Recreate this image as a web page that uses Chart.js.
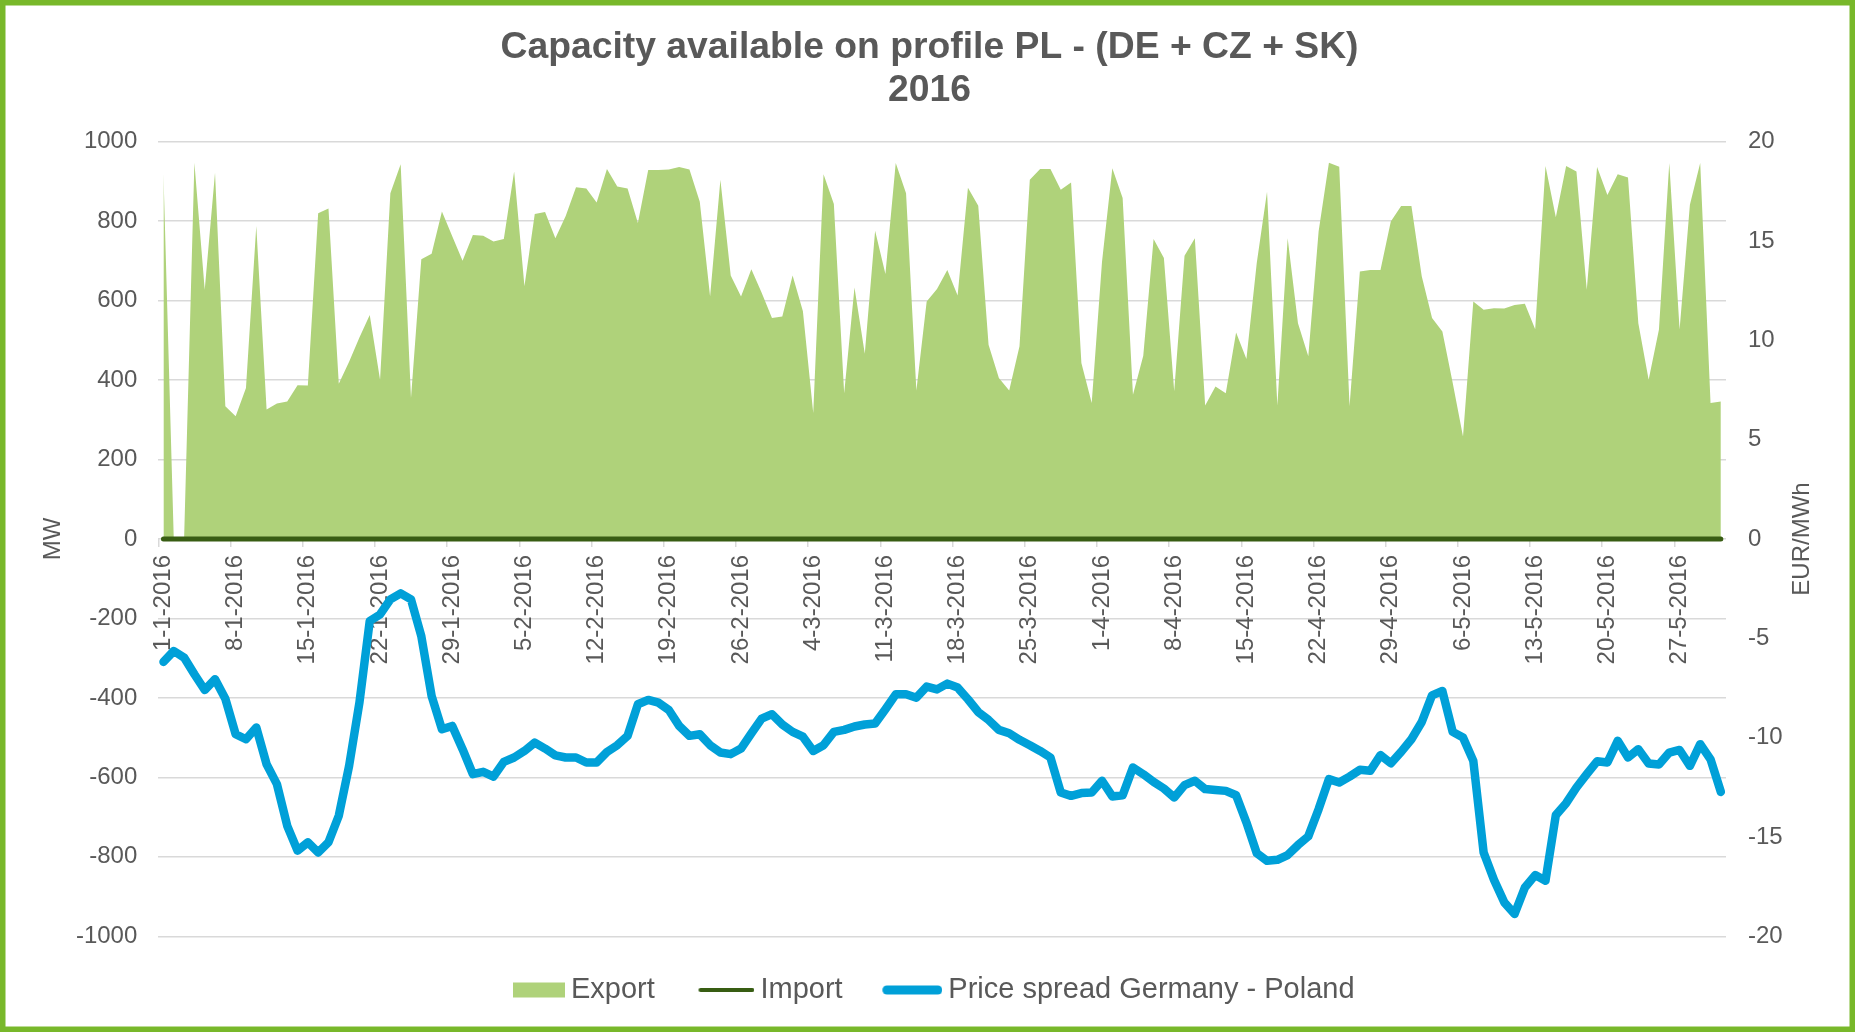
<!DOCTYPE html>
<html>
<head>
<meta charset="utf-8">
<script src="https://cdn.jsdelivr.net/npm/chart.js@4.4.1/dist/chart.umd.min.js"></script>
<style>
  html, body { margin: 0; padding: 0; background: #ffffff; }
  #wrap { width: 1855px; height: 1032px; position: relative; }
  canvas { display: block; }
</style>
</head>
<body>
<div id="wrap"><canvas id="c" width="1855" height="1032"></canvas></div>
<script>
// ---------------- DATA ----------------
const startDay = { year: 2016, month: 1, day: 1 };
const dayCount = 152; // 1-1-2016 .. 31-5-2016

const exportMW = [
  920, 0, 0, 947, 627, 922, 334, 309, 380, 788,
  326, 341, 346, 387, 386, 820, 832, 391, 446, 507,
  564, 401, 870, 943, 355, 704, 718, 824, 762, 700,
  765, 763, 749, 755, 925, 636, 818, 823, 757, 813,
  885, 882, 847, 931, 887, 882, 795, 929, 929, 930,
  936, 930, 849, 610, 904, 663, 610, 679, 620, 556,
  560, 663, 573, 317, 918, 843, 367, 633, 466, 776,
  667, 946, 870, 374, 598, 629, 677, 613, 884, 839,
  489, 405, 374, 485, 904, 931, 931, 879, 897, 443,
  342, 698, 933, 858, 363, 461, 755, 707, 372, 713,
  757, 336, 384, 367, 520, 453, 694, 874, 336, 757,
  543, 460, 774, 947, 937, 334, 673, 677, 677, 799,
  838, 838, 661, 556, 522, 393, 258, 598, 577, 581,
  580, 589, 592, 528, 939, 810, 939, 925, 627, 936,
  866, 918, 910, 543, 401, 527, 946, 527, 841, 946,
  342, 346
];

const importMW = [
  0, 0, 0, 0, 0, 0, 0, 0, 0, 0,
  0, 0, 0, 0, 0, 0, 0, 0, 0, 0,
  0, 0, 0, 0, 0, 0, 0, 0, 0, 0,
  0, 0, 0, 0, 0, 0, 0, 0, 0, 0,
  0, 0, 0, 0, 0, 0, 0, 0, 0, 0,
  0, 0, 0, 0, 0, 0, 0, 0, 0, 0,
  0, 0, 0, 0, 0, 0, 0, 0, 0, 0,
  0, 0, 0, 0, 0, 0, 0, 0, 0, 0,
  0, 0, 0, 0, 0, 0, 0, 0, 0, 0,
  0, 0, 0, 0, 0, 0, 0, 0, 0, 0,
  0, 0, 0, 0, 0, 0, 0, 0, 0, 0,
  0, 0, 0, 0, 0, 0, 0, 0, 0, 0,
  0, 0, 0, 0, 0, 0, 0, 0, 0, 0,
  0, 0, 0, 0, 0, 0, 0, 0, 0, 0,
  0, 0, 0, 0, 0, 0, 0, 0, 0, 0,
  0, 0
];

const priceSpread = [
  -6.19, -5.64, -5.97, -6.81, -7.60, -7.06, -8.04, -9.83, -10.08, -9.49,
  -11.34, -12.34, -14.44, -15.69, -15.27, -15.78, -15.27, -13.93, -11.42, -8.24,
  -4.13, -3.80, -3.04, -2.74, -3.04, -4.89, -7.90, -9.58, -9.41, -10.58,
  -11.84, -11.72, -11.96, -11.22, -11.00, -10.67, -10.25, -10.55, -10.89, -11.00,
  -11.00, -11.25, -11.25, -10.72, -10.38, -9.91, -8.32, -8.10, -8.24, -8.61,
  -9.41, -9.91, -9.83, -10.38, -10.75, -10.83, -10.55, -9.78, -9.04, -8.82,
  -9.34, -9.71, -9.95, -10.67, -10.38, -9.71, -9.61, -9.44, -9.34, -9.29,
  -8.57, -7.82, -7.82, -7.99, -7.43, -7.57, -7.28, -7.48, -8.07, -8.71,
  -9.11, -9.61, -9.78, -10.11, -10.38, -10.67, -11.00, -12.76, -12.93, -12.79,
  -12.76, -12.17, -12.96, -12.90, -11.50, -11.84, -12.23, -12.56, -13.01, -12.39,
  -12.17, -12.59, -12.63, -12.68, -12.90, -14.27, -15.81, -16.20, -16.15, -15.91,
  -15.41, -14.97, -13.60, -12.09, -12.26, -11.96, -11.62, -11.67, -10.88, -11.29,
  -10.72, -10.08, -9.21, -7.87, -7.65, -9.71, -9.99, -11.17, -15.78, -17.15,
  -18.29, -18.88, -17.54, -16.92, -17.20, -13.90, -13.30, -12.51, -11.84, -11.19,
  -11.25, -10.16, -11.00, -10.58, -11.30, -11.35, -10.75, -10.62, -11.42, -10.33,
  -11.09, -12.73
];

const seriesNames = ['Export', 'Import', 'Price spread Germany - Poland'];
const titleLines = ['Capacity available on profile PL - (DE + CZ + SK)', '2016'];
const leftAxisTitle = 'MW';
const rightAxisTitle = 'EUR/MWh';
const labelEvery = 7;

// category labels d-m-2016
const categories = [];
for (let i = 0; i < dayCount; i++) {
  const d = new Date(Date.UTC(startDay.year, startDay.month - 1, startDay.day + i));
  categories.push(d.getUTCDate() + '-' + (d.getUTCMonth() + 1) + '-' + d.getUTCFullYear());
}

// ---------------- STYLE ----------------
const TEXT = '#595959';
const GRID = '#d9d9d9';
const EXPORT_COLOR = '#afd27a';
const IMPORT_COLOR = '#385d13';
const PRICE_COLOR = '#00a0d8';
const FRAME_COLOR = '#78b82a';
const FONT = "'Liberation Sans', Arial, Helvetica, sans-serif";

Chart.defaults.font.family = FONT;
Chart.defaults.color = TEXT;

// legend icons (canvas images), all the same width so they centre alike
function makeIcon(draw) {
  const c = document.createElement('canvas');
  c.width = 69; c.height = 16;
  const g = c.getContext('2d');
  draw(g);
  return c;
}
const legendIcons = [
  makeIcon(g => { g.fillStyle = EXPORT_COLOR; g.fillRect(17, 0.5, 52, 15); }),
  makeIcon(g => { g.strokeStyle = IMPORT_COLOR; g.lineWidth = 4; g.lineCap = 'round';
                  g.beginPath(); g.moveTo(15, 8); g.lineTo(67, 8); g.stroke(); }),
  makeIcon(g => { g.strokeStyle = PRICE_COLOR; g.lineWidth = 9; g.lineCap = 'round';
                  g.beginPath(); g.moveTo(13.5, 8); g.lineTo(64.5, 8); g.stroke(); })
];

const framePlugin = {
  id: 'frame',
  beforeDraw(chart) {
    const ctx = chart.ctx;
    ctx.save();
    ctx.fillStyle = '#ffffff';
    ctx.fillRect(0, 0, chart.width, chart.height);
    ctx.restore();
  },
  afterDraw(chart) {
    const ctx = chart.ctx;
    const a = chart.chartArea;
    ctx.save();
    // right axis title, reading bottom-to-top like the original
    ctx.font = '24px ' + FONT;
    ctx.fillStyle = TEXT;
    ctx.textAlign = 'center';
    ctx.textBaseline = 'middle';
    ctx.translate(a.right + 76, (a.top + a.bottom) / 2);
    ctx.rotate(-Math.PI / 2);
    ctx.fillText(rightAxisTitle, 0, 0);
    ctx.restore();
    ctx.save();
    ctx.strokeStyle = FRAME_COLOR;
    ctx.lineWidth = 5.5;
    ctx.strokeRect(2.75, 2.75, chart.width - 5.5, chart.height - 5.5);
    ctx.restore();
  }
};

new Chart(document.getElementById('c'), {
  type: 'line',
  data: {
    labels: categories,
    datasets: [
      {
        label: seriesNames[0],
        data: exportMW,
        yAxisID: 'y',
        fill: 'origin',
        backgroundColor: EXPORT_COLOR,
        borderColor: EXPORT_COLOR,
        borderWidth: 0,
        pointRadius: 0,
        tension: 0,
        order: 3
      },
      {
        label: seriesNames[1],
        data: importMW,
        yAxisID: 'y',
        fill: false,
        borderColor: IMPORT_COLOR,
        backgroundColor: IMPORT_COLOR,
        borderWidth: 5,
        borderCapStyle: 'round',
        pointRadius: 0,
        tension: 0,
        order: 2
      },
      {
        label: seriesNames[2],
        data: priceSpread,
        yAxisID: 'y1',
        fill: false,
        borderColor: PRICE_COLOR,
        backgroundColor: PRICE_COLOR,
        borderWidth: 8.5,
        borderCapStyle: 'round',
        borderJoinStyle: 'round',
        pointRadius: 0,
        tension: 0,
        order: 1
      }
    ]
  },
  options: {
    responsive: false,
    animation: false,
    devicePixelRatio: 1,
    layout: { padding: { left: 35, right: 31, top: 0, bottom: 17.5 } },
    plugins: {
      title: {
        display: true,
        text: titleLines,
        color: TEXT,
        font: { family: FONT, size: 37.3, weight: 'bold', lineHeight: 1.139 },
        padding: { top: 26.5, bottom: 30.2 }
      },
      legend: {
        position: 'bottom',
        labels: {
          usePointStyle: true,
          pointStyleWidth: 52,
          padding: 39.2,
          color: TEXT,
          font: { family: FONT, size: 29 },
          generateLabels(chart) {
            const items = Chart.defaults.plugins.legend.labels.generateLabels(chart);
            items.sort((a, b) => a.datasetIndex - b.datasetIndex);
            items.forEach(it => { it.pointStyle = legendIcons[it.datasetIndex]; it.lineWidth = 0; });
            return items;
          }
        }
      },
      tooltip: { enabled: false }
    },
    scales: {
      x: {
        type: 'category',
        position: { y: 0 },
        offset: true,
        afterFit(scale) { scale.height = 0; },
        border: { display: false },
        grid: {
          offset: true,
          drawOnChartArea: false,
          drawTicks: true,
          tickLength: 8,
          lineWidth: 1.5,
          color: ctx => (typeof ctx.index === 'number' && ctx.index % labelEvery === 0) ? GRID : 'rgba(0,0,0,0)'
        },
        ticks: {
          autoSkip: false,
          minRotation: 90,
          maxRotation: 90,
          padding: 8,
          color: TEXT,
          font: { family: FONT, size: 24 },
          callback(value, index) { return index % labelEvery === 0 ? this.getLabelForValue(value) : ''; }
        }
      },
      y: {
        position: 'left',
        min: -1000,
        max: 1000,
        afterFit(scale) { scale.width = 123.3; },
        border: { display: false },
        grid: { color: GRID, lineWidth: 1.5, drawTicks: false },
        ticks: { stepSize: 200, padding: 21, color: TEXT, font: { family: FONT, size: 24 },
                 callback: v => String(v) },
        title: { display: true, text: leftAxisTitle, color: TEXT, font: { family: FONT, size: 24 }, padding: { top: 4, bottom: 4 } }
      },
      y1: {
        position: 'right',
        min: -20,
        max: 20,
        afterFit(scale) { scale.width = 98; },
        border: { display: false },
        grid: { drawOnChartArea: false, drawTicks: false },
        ticks: { stepSize: 5, padding: 22, color: TEXT, font: { family: FONT, size: 24 },
                 callback: v => String(v) },
        title: { display: false }
      }
    }
  },
  plugins: [framePlugin]
});
</script>
</body>
</html>
